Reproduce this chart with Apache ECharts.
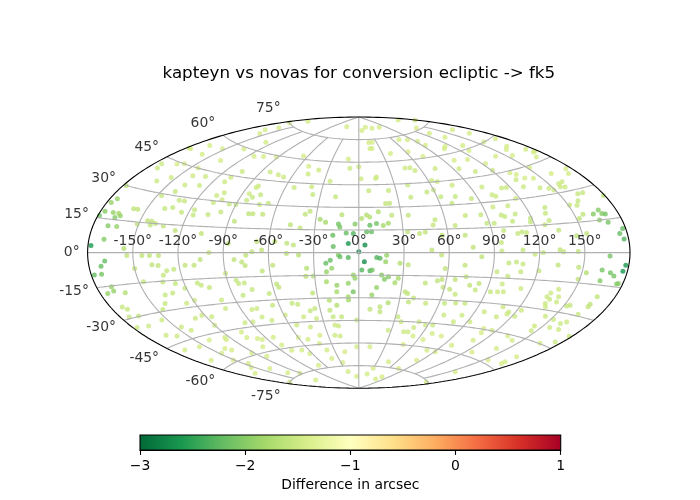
<!DOCTYPE html>
<html>
<head>
<meta charset="utf-8">
<script src="https://cdn.jsdelivr.net/npm/echarts@6/dist/echarts.min.js"></script>
<style>
  html, body { margin: 0; padding: 0; background: #fff; }
  #main { width: 700px; height: 500px; }
</style>
</head>
<body>
<div id="main"></div>
<script>
// points: [ecliptic lon (deg), lat (deg), difference in arcsec]
var northWest = [
  [-178, 51, -1.45], [-176, 51, -1.45], [-168, 55, -1.45], [-159, 51, -1.45], [-153, 56, -1.45],
  [-164, 44, -1.45], [-159, 45, -1.45], [-144, 45, -1.45], [-136, 51, -1.45], [-173, 40, -1.5],
  [-175, 42, -1.5], [-161, 35, -1.5], [-154, 38, -1.5], [-138, 36, -1.5], [-140, 41, -1.5],
  [-127, 37, -1.5], [-130, 42, -1.5], [-108, 33, -1.5], [-104, 35, -1.5], [-107, 29, -1.5],
  [-102, 31, -1.5], [-178, 30, -1.7], [-147, 29, -1.55], [-140, 32, -1.55], [-132, 28, -1.55],
  [-128, 28, -1.55], [-138, 23, -1.55], [-133, 24, -1.55], [-125, 22, -1.55], [-117, 24, -1.55],
  [-116, 21, -1.55], [-106, 22, -1.55], [-98, 24, -1.55], [-175, 24, -1.9], [-177, 22, -1.9],
  [-177, 18, -2.0], [-171, 18, -1.9], [-167, 18, -1.8], [-165, 17, -1.9], [-168, 16, -2.0],
  [-159, 21, -1.6], [-156, 21, -1.6], [-179, 16, -2.1], [-151, 14, -1.6], [-145, 16, -1.6],
  [-142, 16, -1.6], [-139, 15, -1.6], [-142, 14, -1.6], [-133, 14, -1.6], [-164, 12, -1.9],
  [-170, 12, -2.0], [-170, 6, -2.0], [-178, 3, -2.6], [-106, 11, -1.6], [-124, 12, -1.6],
  [-156, 2, -1.7]
];

var northMidWest = [
  [-168, 79, -1.45], [-172, 75, -1.45], [-161, 72, -1.45], [-165, 69, -1.45], [-157, 67, -1.45],
  [-46, 83, -1.45], [-129, 65, -1.45], [-135, 59, -1.45], [-114, 57, -1.45], [-105, 58, -1.45],
  [-92, 59, -1.45], [-65, 62, -1.45], [-12, 62, -1.45], [-9, 56, -1.5], [-51, 56, -1.45],
  [-39, 54, -1.5], [-47, 51, -1.5], [-73, 49, -1.5], [-82, 50, -1.5], [-67, 48, -1.5],
  [-106, 48, -1.5], [-110, 44, -1.5], [-111, 41, -1.5], [-25, 47, -1.5], [-82, 41, -1.5],
  [-83, 40, -1.5], [-85, 36, -1.5], [-81, 34, -1.55], [-76, 36, -1.55], [-84, 32, -1.55],
  [-73, 30, -1.55], [-67, 31, -1.55], [-53, 42, -1.5], [-39, 43, -1.5], [-36, 38, -1.55],
  [-18, 37, -1.55], [-90, 29, -1.55], [-95, 29, -1.55], [-78, 24, -1.6], [-75, 24, -1.6],
  [-68, 24, -1.6], [-38, 25, -1.6], [-35, 27, -1.6], [-12, 25, -1.65], [-27, 22, -1.8],
  [-23, 20, -1.8], [-86, 19, -1.6], [-47, 18, -1.6], [-40, 16, -1.6], [-14, 19, -2.1],
  [-13, 17, -2.1], [-17.5, 11.5, -2.2], [-8.5, 13, -2.2], [-2.6, 19, -2.0], [-7, 6, -2.6],
  [-3.7, 12.7, -2.3], [-56, 7, -1.6], [-48, 6, -1.6], [-43.5, 5, -1.6], [-68, 7, -1.6],
  [-71, 0.5, -1.6], [-64.5, 1.6, -1.6], [-17, 4, -2.2], [-87, 5.5, -1.6]
];

var northMidEast = [
  [178, 78, -1.45], [166, 81.5, -1.45], [71, 82, -1.45], [25, 83, -1.45], [44, 82, -1.45],
  [9, 81, -1.45], [136, 76, -1.45], [165, 69, -1.45], [131, 72, -1.45], [135, 68, -1.45],
  [167, 65, -1.45], [17, 73, -1.45], [23, 73, -1.45], [71, 73, -1.45], [93, 70, -1.45],
  [83, 72, -1.45], [94, 67, -1.45], [113, 64, -1.45], [132, 62, -1.45], [157, 60, -1.45],
  [16, 69, -1.45], [19, 69, -1.45], [40, 65, -1.45], [63, 65, -1.45], [74, 61, -1.45],
  [108, 63, -1.45], [128, 59, -1.45], [100, 56, -1.45], [113, 55, -1.45], [123, 51, -1.45],
  [0, 57, -1.5], [46, 55, -1.5], [51, 55, -1.5], [54, 53, -1.5], [74, 53, -1.5],
  [95, 51, -1.5], [106, 48, -1.5], [121, 47, -1.5], [16, 50, -1.5], [15, 49, -1.5],
  [2, 49, -1.5], [41, 44, -1.5], [63, 46, -1.5], [67, 45, -1.5], [77, 42, -1.5],
  [99, 39, -1.5], [102, 34, -1.5], [8, 41, -1.55], [24, 41, -1.55], [40, 36, -1.55],
  [54, 39, -1.55], [60, 40, -1.55], [63, 35.5, -1.55], [74, 35, -1.55], [85, 33, -1.55],
  [20, 32.5, -1.6], [23, 32.5, -1.6], [69, 31, -1.55], [5.5, 25, -1.7], [7.7, 23.6, -1.7],
  [14, 27, -1.7], [2, 22.7, -1.7], [7.6, 18.2, -2.2], [12.2, 19.2, -2.1], [16.8, 18, -1.8],
  [20.4, 19.3, -1.8], [23.3, 24.7, -1.6], [35, 24.5, -1.6], [53, 21, -1.55], [51, 17.7, -1.55],
  [75, 23, -1.55], [66, 17, -1.55], [86, 23, -1.55], [88, 17.6, -1.55], [5.3, 13.8, -2.2],
  [8.6, 13.8, -2.2], [4.1, 5, -2.7], [0, 0.5, -2.8], [33, 13.6, -1.6], [41, 12.4, -1.6],
  [45, 13.4, -1.6], [56, 11, -1.6], [76, 3.3, -1.6], [71.5, 10.8, -1.6]
];

var northEast = [
  [173, 59, -1.45], [166, 55, -1.45], [160, 54, -1.45], [155, 51, -1.45], [174, 51, -1.45],
  [175, 49, -1.45], [177, 49, -1.45], [170, 47, -1.45], [141, 53, -1.45], [152, 44, -1.45],
  [132, 44, -1.45], [135, 42.5, -1.45], [138, 40, -1.45], [144, 39, -1.45], [161, 39, -1.45],
  [176, 39, -1.45], [173, 37, -1.45], [130, 40, -1.5], [130, 36, -1.5], [141, 34, -1.5],
  [147, 33, -1.5], [157, 34, -1.5], [161, 34.5, -1.5], [156, 32.6, -1.5], [159, 32, -1.5],
  [149, 31.7, -1.5], [113, 37, -1.5], [117, 37, -1.5], [104, 33, -1.5], [117, 30.5, -1.5],
  [163, 28, -1.55], [167, 28, -1.55], [159, 25, -1.55], [156, 23, -1.55], [151, 23.6, -1.55],
  [179, 25, -1.6], [108, 27, -1.5], [97, 27, -1.5], [133, 24, -1.55], [100, 22, -1.55],
  [102, 21, -1.55], [110, 22, -1.55], [119, 19, -1.55], [131, 21, -1.55], [156, 18.5, -1.6],
  [152, 16.7, -1.6], [163, 18, -2.0], [168, 19.5, -2.0], [169, 17.8, -2.0], [171, 17.3, -2.1],
  [165, 15, -2.0], [170, 13.6, -2.1], [93, 17.4, -1.55], [98, 13, -1.55], [106, 18, -1.55],
  [118, 17, -1.55], [127, 15, -1.55], [131, 17, -1.55], [135, 11.7, -1.6], [107, 11, -1.55],
  [110, 11.7, -1.55], [113, 11.3, -1.55], [146, 8.4, -1.6], [153, 9.3, -1.6], [175, 8.3, -2.2],
  [178, 10.4, -2.2], [177, 5.8, -2.3], [95, 6, -1.55], [136, 0.5, -1.6]
];

var southWest = [
  [-169, -3.8, -2.2], [-172, -6, -2.2], [-178, -9.6, -2.2], [-173, -9.5, -2.1], [-170, -15.4, -1.9],
  [-170, -17.3, -1.9], [-175, -18, -1.9], [-154, -1.4, -1.6], [-144, -1.5, -1.6], [-139, -1.5, -1.6],
  [-133, -1.5, -1.6], [-150, -7.8, -1.6], [-138, -6.3, -1.6], [-134, -6.8, -1.6], [-147, -14.6, -1.55],
  [-132, -11.9, -1.55], [-129, -9.7, -1.55], [-124, -9, -1.55], [-134, -15.4, -1.55], [-163, -18.8, -1.7],
  [-172, -24.6, -1.55], [-170, -26, -1.55], [-174, -29.3, -1.55], [-167, -29.8, -1.55], [-177, -34, -1.5],
  [-168, -34.8, -1.5], [-154, -33.7, -1.5], [-146, -29, -1.55], [-141, -26.3, -1.55], [-137, -22.2, -1.55],
  [-131, -21.5, -1.55], [-121, -19.7, -1.55], [-126, -16.7, -1.55], [-111, -17.2, -1.55], [-109, -18.6, -1.55],
  [-104, -20.2, -1.55], [-110, -7.1, -1.6], [-116, -7, -1.6], [-105.5, -4, -1.6], [-99.5, 0, -1.6],
  [-119, -26.5, -1.5], [-126, -27.7, -1.5], [-129, -36, -1.5], [-122, -34.9, -1.5], [-146, -38.7, -1.5],
  [-142, -41.2, -1.5], [-116, -36.5, -1.5], [-120, -41.1, -1.5], [-165, -40.4, -1.5], [-158, -42, -1.5],
  [-170, -48.1, -1.45], [-155, -49.1, -1.45], [-139, -47.6, -1.45], [-168, -55.4, -1.45], [-148, -54.7, -1.45]
];

var southMidWest = [
  [-83, -4.2, -1.6], [-78, -5.8, -1.6], [-76, -8, -1.6], [-75, -1.6, -1.6], [-65, -11.5, -1.6],
  [-57.5, -8, -1.6], [-48, -0.5, -1.65], [-40, -1.6, -1.65], [-35, -10.3, -1.7], [-36, -15.4, -1.7],
  [-31, -15.4, -1.7], [-22, -7, -2.2], [-19, -5, -2.2], [-18.2, -10.4, -1.9], [-21.8, -12.6, -1.9],
  [-13.6, -1.6, -2.0], [-12.5, -2.8, -2.2], [-7, -3.2, -2.3], [-3.7, -14.9, -1.9], [-2.6, -17.1, -1.9],
  [-7.3, -20.4, -1.9], [-15.3, -21.6, -1.9], [-22.3, -19.3, -1.8], [-90, -12.4, -1.55], [-84, -16.8, -1.55],
  [-79, -18.6, -1.55], [-83, -18.8, -1.55], [-75, -22.8, -1.55], [-57, -20.1, -1.6], [-56, -22.2, -1.6],
  [-83, -26, -1.55], [-64, -25.8, -1.55], [-33, -26.4, -1.6], [-15.7, -25.9, -1.8], [-7.7, -29.3, -1.8],
  [-4, -26, -2.1], [-21.8, -31.4, -1.7], [-16.7, -34.8, -1.7], [-7.6, -31.5, -1.8], [-100, -27.9, -1.5],
  [-101, -32.9, -1.5], [-82, -34.9, -1.5], [-78, -34.6, -1.5], [-65, -33.3, -1.55], [-50, -32.7, -1.55],
  [-46, -33.4, -1.55], [-38, -38, -1.55], [-34, -36.6, -1.55], [-22.6, -38, -1.6], [-78, -39.9, -1.5],
  [-72, -42.4, -1.5], [-59, -39.9, -1.5], [-45, -41.7, -1.5], [-35, -43.1, -1.5], [-21, -42.4, -1.55],
  [-14.1, -42.5, -1.55], [-1.6, -44.8, -1.55], [-95, -42.3, -1.5], [-88, -42.2, -1.5], [-54, -46.7, -1.5],
  [-43, -48.4, -1.5], [-21, -47.9, -1.5], [-18, -48.5, -1.5], [-124, -48.2, -1.45], [-125, -49.3, -1.45],
  [-105, -47, -1.45], [-106, -50.4, -1.45], [-98, -52, -1.45], [-95, -53, -1.45], [-83, -52.7, -1.45],
  [-83, -57.8, -1.45], [-60, -54.5, -1.45], [-52, -56.2, -1.45], [-38, -54.1, -1.45], [-43, -59.4, -1.45],
  [-23.4, -54.5, -1.5], [-18.5, -55.2, -1.5], [-138, -53.2, -1.45], [-135, -54.8, -1.45], [-122, -58.6, -1.45],
  [-114, -62.1, -1.45], [-103, -56.9, -1.45], [-79, -61.6, -1.45], [-68, -62.4, -1.45], [-63, -65.1, -1.45],
  [-39, -63.9, -1.45], [-17.9, -65.7, -1.45], [-151, -58.9, -1.45], [-146, -62.5, -1.45], [-153, -64.3, -1.45],
  [-139, -67.7, -1.45], [-134, -72.2, -1.45], [-122, -74.4, -1.45], [-70, -72.7, -1.45], [-40, -69.6, -1.45],
  [-27, -72.6, -1.45], [-26, -78.7, -1.45], [-132, -79.5, -1.45], [-171, -75, -1.45], [-166, -66.6, -1.45]
];

var southMidEast = [
  [3.7, -6.1, -2.7], [11.9, -3.2, -2.3], [14.1, -3.8, -2.3], [18.5, -1.7, -1.9], [17.9, -6, -1.9],
  [27.5, -7, -1.7], [33, -8, -1.6], [48.5, 1.6, -1.6], [55, -1.6, -1.6], [58, -10.1, -1.6],
  [71, -7.8, -1.6], [81.7, -2.6, -1.6], [2, -11.6, -2.3], [7.5, -12.1, -2.3], [9, -11.6, -2.1],
  [15.5, -14.8, -2.0], [20.2, -16, -2.0], [17.6, -17.7, -2.0], [27, -16.9, -1.8], [25, -19.9, -1.8],
  [12.5, -23.1, -1.9], [46, -19.6, -1.6], [54, -18, -1.6], [57, -17.1, -1.6], [66, -16.9, -1.6],
  [73, -15, -1.6], [77, -20.1, -1.6], [83, -18.8, -1.6], [93, -23.3, -1.55], [82, -22.9, -1.55],
  [9.4, -28.1, -1.9], [22, -33.1, -1.7], [33, -25.7, -1.6], [35, -26.7, -1.6], [40, -29.5, -1.6],
  [37, -32.2, -1.6], [50, -32.7, -1.55], [59, -22.1, -1.6], [64, -23.2, -1.6], [69, -26.1, -1.55],
  [64, -32.1, -1.55], [72, -31.4, -1.55], [79, -31.3, -1.55], [97, -35.2, -1.5], [8.7, -37.6, -1.6],
  [16.2, -35.9, -1.6], [16.7, -39.2, -1.6], [32, -42.1, -1.55], [36, -45.3, -1.5], [27.3, -51.2, -1.5],
  [42, -51.7, -1.5], [46, -51.5, -1.5], [49, -48.6, -1.5], [58, -46.5, -1.5], [51, -44.7, -1.5],
  [64, -46.1, -1.5], [68, -39.4, -1.5], [79, -42.9, -1.5], [82, -38.5, -1.5], [92, -41.8, -1.5],
  [108, -44.5, -1.45], [116, -44.7, -1.45], [69, -51.3, -1.45], [53, -54, -1.45], [65, -55.5, -1.45],
  [79, -52.1, -1.45], [111, -51.6, -1.45], [110, -47, -1.45], [13, -62.4, -1.45], [-2.5, -62.5, -1.45],
  [49, -59.8, -1.45], [80, -61.5, -1.45], [91, -61.6, -1.45], [98, -56.4, -1.45], [126, -57.4, -1.45],
  [48, -71.5, -1.45], [30, -76.5, -1.45], [72, -81, -1.45], [77, -74.6, -1.45], [84, -68.1, -1.45],
  [155, -67.5, -1.45], [170, -75.3, -1.45], [23.6, -80.5, -1.45], [-7, -82, -1.45], [66, -83, -1.45],
  [154, -58.3, -1.45]
];

var southEast = [
  [95, 1, -1.55], [109, 1.5, -1.55], [117, -0.9, -1.55], [122.5, 0, -1.55], [133.6, 1.5, -1.6],
  [145.7, 0.5, -1.6], [166.8, -1.5, -2.1], [177, -8, -2.6], [178, -5.4, -2.6], [100, -6, -1.55],
  [105, -5.4, -1.55], [109.5, -6.4, -1.55], [133, -6.5, -1.6], [147, -7.3, -1.6], [153, -9.8, -1.7],
  [163, -8.1, -2.1], [169, -9.1, -2.1], [172, -10.4, -2.1], [176, -13.7, -2.0], [177, -13.4, -2.0],
  [164, -13, -2.0], [93, -11.4, -1.55], [101, -13.7, -1.55], [109, -10.9, -1.55], [121, -10, -1.55],
  [149, -13.2, -1.6], [99, -18.4, -1.5], [98, -23.1, -1.5], [102, -22.8, -1.5], [113, -20.3, -1.5],
  [135, -21.2, -1.5], [139, -19, -1.5], [134, -23.4, -1.5], [137, -24.5, -1.5], [143, -25.3, -1.5],
  [142, -22.7, -1.5], [136, -26.8, -1.5], [138, -28.5, -1.5], [152, -26.5, -1.55], [154, -25.9, -1.55],
  [167, -23.9, -1.6], [167, -25.1, -1.6], [168, -20.2, -1.6], [108, -31.3, -1.5], [115, -33.7, -1.5],
  [115, -35, -1.5], [123, -31.9, -1.5], [122, -35.5, -1.5], [109, -37.2, -1.5], [165, -29.1, -1.5],
  [144, -33, -1.5], [152, -33.7, -1.5], [160, -34.7, -1.5], [163, -33.4, -1.5], [144, -38.5, -1.5],
  [146, -40.9, -1.5], [156, -37.5, -1.5], [164, -37.3, -1.5], [134, -45.9, -1.45], [142, -47.2, -1.45],
  [178, -38.5, -1.5], [175, -42.3, -1.5], [166, -44.8, -1.45], [141, -52.7, -1.45], [169, -52.7, -1.45],
  [170, -56.1, -1.45], [171, -57.2, -1.45]
];

var lonTicks = [-150, -120, -90, -60, -30, 0, 30, 60, 90, 120, 150];
var latTicks = [-75, -60, -45, -30, -15, 0, 15, 30, 45, 60, 75];
var cbarTicks = [-3, -2, -1, 0, 1];

// RdYlGn reversed
var cmap = ['#006837', '#1a9850', '#66bd63', '#a6d96a', '#d9ef8b', '#ffffbf',
            '#fee08b', '#fdae61', '#f46d43', '#d73027', '#a50026'];

var FONT = 'DejaVu Sans';
var RAD = Math.PI / 180;

function aitoff(lon, lat) {
    var l = lon * RAD / 2, p = lat * RAD;
    var c = Math.cos(p) * Math.cos(l);
    var a = Math.acos(Math.max(-1, Math.min(1, c)));
    var s = a < 1e-9 ? 1 : Math.sin(a) / a;
    return [2 * Math.cos(p) * Math.sin(l) / s, Math.sin(p) / s];
}

function gridLine(points, color, width) {
    return {
        type: 'line',
        data: points,
        showSymbol: false,
        symbol: 'none',
        silent: true,
        clip: false,
        z: 3,
        lineStyle: { color: color, width: width }
    };
}

function drawChart() {
    var myChart = echarts.init(document.getElementById('main'));

    var allPts = [].concat(northWest, northMidWest, northMidEast, northEast,
                           southWest, southMidWest, southMidEast, southEast);
    var scatterData = allPts.map(function (d) {
        var xy = aitoff(d[0], d[1]);
        return [xy[0], xy[1], d[2]];
    });

    var series = [{
        name: 'diff',
        type: 'scatter',
        data: scatterData,
        symbolSize: 5,
        z: 2,
        silent: true
    }];

    // parallels
    latTicks.forEach(function (lat) {
        var pts = [];
        for (var lon = -180; lon <= 180; lon += 2) pts.push(aitoff(lon, lat));
        series.push(gridLine(pts, '#b0b0b0', 1.1));
    });
    // meridians, capped at 75 deg unless multiple of 90
    lonTicks.forEach(function (lon) {
        var cap = (lon % 90 === 0) ? 90 : 75;
        var pts = [];
        for (var lat = -cap; lat <= cap; lat += 1.5) pts.push(aitoff(lon, lat));
        series.push(gridLine(pts, '#b0b0b0', 1.1));
    });
    // outline
    [-180, 180].forEach(function (lon) {
        var pts = [];
        for (var lat = -90; lat <= 90; lat += 1) pts.push(aitoff(lon, lat));
        var s = gridLine(pts, '#000000', 1.1);
        s.z = 4;
        series.push(s);
    });

    // longitude tick labels along the equator
    series.push({
        type: 'scatter',
        symbolSize: 0,
        silent: true,
        clip: false,
        z: 5,
        data: lonTicks.map(function (lon) { return [aitoff(lon, 0)[0], 0]; }),
        label: {
            show: true, position: 'top', distance: 4,
            color: '#000', fontFamily: FONT, fontSize: 13.9,
            formatter: function (p) { return lonTicks[p.dataIndex] + '°'; }
        }
    });

    // latitude tick labels at the left edge (pushed out 10% like matplotlib)
    series.push({
        type: 'scatter',
        symbolSize: 0,
        silent: true,
        clip: false,
        z: 5,
        data: latTicks.map(function (lat) {
            var xy = aitoff(-180, lat);
            return [xy[0], xy[1] * 1.1];
        }),
        label: {
            show: true, position: 'left', distance: 8,
            color: '#000', fontFamily: FONT, fontSize: 13.9,
            formatter: function (p) { return latTicks[p.dataIndex] + '°'; }
        }
    });

    // colorbar
    var stops = cmap.map(function (c, i) { return { offset: i / (cmap.length - 1), color: c }; });
    series.push({
        type: 'custom',
        xAxisIndex: 1,
        yAxisIndex: 1,
        silent: true,
        data: [[cbarTicks[0], 0]],
        renderItem: function (params, api) {
            var p0 = api.coord([cbarTicks[0], 0]);
            var p1 = api.coord([cbarTicks[cbarTicks.length - 1], 1]);
            return {
                type: 'rect',
                shape: { x: p0[0], y: p1[1], width: p1[0] - p0[0], height: p0[1] - p1[1] },
                style: {
                    fill: new echarts.graphic.LinearGradient(0, 0, 1, 0, stops),
                    stroke: '#000',
                    lineWidth: 1.1
                }
            };
        }
    });

    var option = {
        animation: false,
        backgroundColor: '#ffffff',
        title: {
            text: 'kapteyn vs novas for conversion ecliptic -> fk5',
            left: 358.8,
            textAlign: 'center',
            top: 65,
            padding: 0,
            textStyle: { color: '#000', fontFamily: FONT, fontWeight: 'normal', fontSize: 16.7 }
        },
        grid: [
            { left: 87.6, top: 117, width: 542.4, height: 271.2 },
            { left: 140, top: 435, width: 420.7, height: 15 }
        ],
        xAxis: [
            { type: 'value', min: -Math.PI, max: Math.PI, show: false },
            {
                type: 'value', gridIndex: 1, min: -3, max: 1, interval: 1,
                axisLine: { show: true, lineStyle: { color: '#000', width: 1.1 } },
                axisTick: { show: true, length: 4.9, lineStyle: { color: '#000', width: 1.1 } },
                splitLine: { show: false },
                axisLabel: {
                    color: '#000', fontFamily: FONT, fontSize: 13.9, margin: 9,
                    formatter: function (v) { return String(v).replace('-', '\u2212'); }
                },
                name: 'Difference in arcsec',
                nameLocation: 'middle',
                nameGap: 28,
                nameTextStyle: { color: '#000', fontFamily: FONT, fontSize: 13.9 }
            }
        ],
        yAxis: [
            { type: 'value', min: -Math.PI / 2, max: Math.PI / 2, show: false },
            { type: 'value', gridIndex: 1, min: 0, max: 1, show: false }
        ],
        visualMap: {
            type: 'continuous',
            show: false,
            min: cbarTicks[0],
            max: cbarTicks[cbarTicks.length - 1],
            dimension: 2,
            seriesIndex: 0,
            inRange: { color: cmap }
        },
        series: series
    };

    myChart.setOption(option);
}

drawChart();
</script>
</body>
</html>
